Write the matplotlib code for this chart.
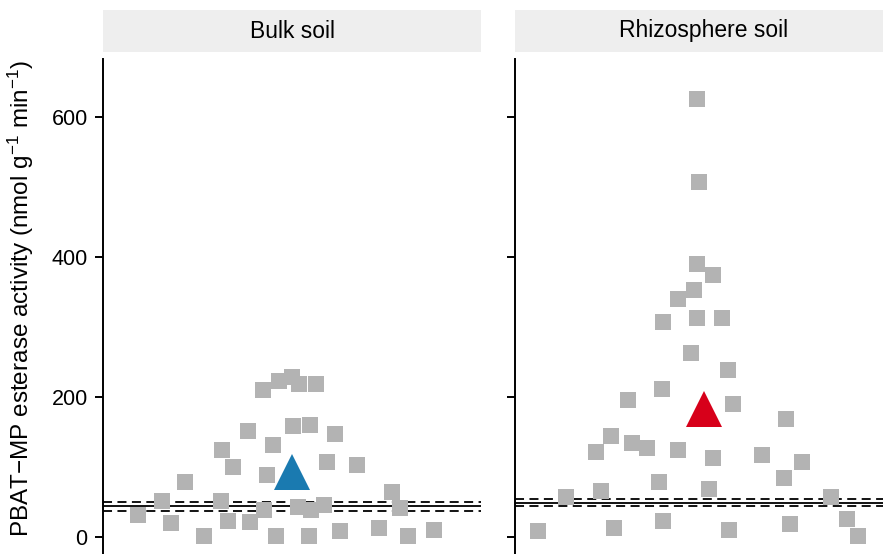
import matplotlib
matplotlib.use("Agg")
import matplotlib.pyplot as plt
import numpy as np

plt.rcParams['font.family'] = ['Liberation Sans', 'DejaVu Sans']
plt.rcParams['mathtext.fontset'] = 'custom'
plt.rcParams['mathtext.rm'] = 'Liberation Sans'
plt.rcParams['mathtext.it'] = 'Liberation Sans'

# bulk soil samples (jitter position, activity)
bulk_x = [0.908, 0.959, 0.999, 1.022, 1.075, 0.859, 1.002, 1.056, 1.136,
          0.778, 0.939, 0.812, 0.921, 1.111, 1.206, 0.659, 0.587, 0.775,
          1.317, 0.511, 0.615, 0.797, 0.866, 0.910, 1.019, 1.059, 1.102,
          1.342, 0.721, 0.948, 1.053, 1.152, 1.276, 1.367, 1.450]
bulk_y = [210, 223, 229, 219, 219, 151, 159, 160, 147,
          124, 131, 100, 88, 107, 103, 79, 51, 51,
          64, 32, 20, 23, 22, 39, 43, 38, 46,
          41, 2, 2, 2, 8, 13, 2, 10]

# rhizosphere soil samples
rhizo_x = [0.978, 0.984, 0.978, 1.029, 0.968, 0.917, 0.978, 1.057, 0.870,
           0.959, 1.076, 0.867, 0.759, 1.092, 1.260, 0.705, 0.657, 0.771,
           0.819, 0.917, 1.029, 1.184, 1.311, 1.254, 0.857, 1.016, 0.673,
           0.562, 1.403, 0.473, 0.714, 0.870, 1.079, 1.273, 1.454, 1.489]
rhizo_y = [626, 507, 390, 374, 353, 340, 313, 313, 307,
           263, 239, 211, 196, 190, 169, 144, 121, 134,
           127, 124, 113, 117, 107, 84, 79, 69, 66,
           57, 57, 8, 13, 23, 10, 19, 26, 2]

panels = ['Bulk soil', 'Rhizosphere soil']
means = [93, 183]
mean_colors = ['#1a7ab0', '#d7001a']
# reference line (solid) and its band (dashed)
ref_mid = [44.3, 48.6]
ref_lo = [36.7, 43.8]
ref_hi = [50.5, 54.3]

W, H = 883, 554
fig = plt.figure(figsize=(W / 100, H / 100), dpi=100)

px_per_unit = 0.7
y0_px = 537
top_px = 59
ylo = -(H - y0_px) / px_per_unit
yhi = (y0_px - top_px) / px_per_unit

lefts = [103, 515]
pw = 378
data = [(bulk_x, bulk_y), (rhizo_x, rhizo_y)]

for i, name in enumerate(panels):
    ax = fig.add_axes([lefts[i] / W, 0, pw / W, (H - top_px) / H])
    xs, ys = data[i]
    for v, ls in [(ref_hi[i], (0, (5, 3))), (ref_mid[i], '-'), (ref_lo[i], (0, (5, 3)))]:
        ax.axhline(v, color='black', lw=1.3, ls=ls, zorder=1)
    ax.scatter(xs, ys, marker='s', s=16 ** 2 * 0.72 ** 2, color='#b3b3b3',
               linewidths=0, zorder=2)
    ax.plot([1], [means[i]], marker='^', ms=26, color=mean_colors[i],
            markeredgewidth=0, zorder=3)
    ax.set_xlim(0.4, 1.6)
    ax.set_ylim(ylo, yhi)
    ax.set_yticks([0, 200, 400, 600])
    ax.set_xticks([])
    for s in ['top', 'right', 'bottom']:
        ax.spines[s].set_visible(False)
    ax.spines['left'].set_linewidth(1.4)
    ax.tick_params(axis='y', length=6, width=1.4, labelsize=15.5, pad=5)
    if i != 0:
        ax.tick_params(axis='y', labelleft=False)

    # facet strip
    sax = fig.add_axes([lefts[i] / W, (H - 52) / H, pw / W, 42 / H])
    sax.set_facecolor('#eeeeee')
    sax.set_xticks([])
    sax.set_yticks([])
    for s in sax.spines.values():
        s.set_visible(False)
    sax.text(0.5, 0.5, name, ha='center', va='center', fontsize=16.5,
             transform=sax.transAxes)

fig.text(21 / W, (H - 60) / H,
         'PBAT\u2212MP esterase activity (nmol g$^{-1}$ min$^{-1}$)',
         rotation=90, ha='center', va='top', fontsize=17.5)

fig.savefig('out.png', dpi=100)
